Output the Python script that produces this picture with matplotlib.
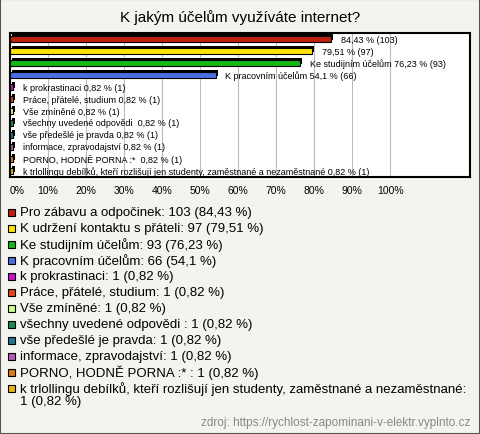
import matplotlib.pyplot as plt
from matplotlib.patches import Rectangle
from matplotlib.transforms import ScaledTranslation

plt.rcParams['font.family'] = ['Liberation Sans', 'DejaVu Sans']

title = 'K jakým účelům využíváte internet?'
answers = ['Pro zábavu a odpočinek', 'K udržení kontaktu s přáteli', 'Ke studijním účelům',
           'K pracovním účelům', 'k prokrastinaci', 'Práce, přátelé, studium', 'Vše zmíněné',
           'všechny uvedené odpovědi ', 'vše předešlé je pravda', 'informace, zpravodajství',
           'PORNO, HODNĚ PORNA :* ',
           'k trlollingu debílků, kteří rozlišují jen studenty, zaměstnané a nezaměstnané']
counts = [103, 97, 93, 66, 1, 1, 1, 1, 1, 1, 1, 1]
percents = ['84,43', '79,51', '76,23', '54,1', '0,82', '0,82', '0,82', '0,82', '0,82', '0,82', '0,82', '0,82']
values = [84.43, 79.51, 76.23, 54.1, 0.82, 0.82, 0.82, 0.82, 0.82, 0.82, 0.82, 0.82]
colors = ['#C0200E', '#FFE500', '#14B814', '#4A6FE3', '#C814C8', '#E0460F', '#CCFF8C',
          '#1C8C50', '#1E7890', '#B45AB4', '#E07814', '#E6B414']
# which bar labels carry the answer name
show_name = [False, False, True, True, True, True, True, True, True, True, True, True]
ticks = list(range(0, 101, 10))
source = 'zdroj: https://rychlost-zapominani-v-elektr.vyplnto.cz'

bg = '#F4F3ED'
fig = plt.figure(figsize=(4.8, 4.35), dpi=100, facecolor=bg)
fig.add_artist(Rectangle((0, 0), 1, 1, transform=fig.transFigure, fill=False,
                         edgecolor='#555555', lw=1.5))
fig.text(0.5, 1 - 18 / 435, title, ha='center', va='center', fontsize=11)

ax = fig.add_axes([10 / 480, 1 - 178 / 435, 460 / 480, 144 / 435])
ax.set_facecolor('white')
ax.set_xlim(0, 121)
ax.set_ylim(11.5, -0.5)
ax.set_xticks(ticks)
ax.set_xticklabels([f'{t}%' for t in ticks], fontsize=7.5)
ax.get_xticklabels()[0].set_horizontalalignment('left')
ax.tick_params(axis='x', length=0, pad=6)
ax.set_yticks([])
ax.grid(axis='x', color='#BBBBBB', lw=0.8)
ax.set_axisbelow(True)
for s in ax.spines.values():
    s.set_linewidth(1.5)

y = list(range(len(values)))
shadow = ax.barh(y, values, height=0.45, color='black')
off = ScaledTranslation(1.5 / 72, 1.5 / 72, fig.dpi_scale_trans)
for p in shadow:
    p.set_transform(ax.transData + off)
ax.barh(y, values, height=0.45, color=colors, edgecolor='black', lw=0.8)

for i, v in enumerate(values):
    lab = f'{percents[i]} % ({counts[i]})'
    if show_name[i]:
        lab = f'{answers[i]} {lab}'
    ax.annotate(lab, (v, i), xytext=(7, 0), textcoords='offset points',
                va='center', fontsize=6.5)

# legend below the chart
ypix = 213
for i, a in enumerate(answers):
    fig.add_artist(Rectangle((8 / 480, 1 - (ypix + 3.5) / 435), 7 / 480, 7 / 435,
                             transform=fig.transFigure, facecolor=colors[i],
                             edgecolor='black', lw=0.8))
    txt = f'{a}: {counts[i]} ({percents[i]} %)'
    if i == len(answers) - 1:
        fig.text(20 / 480, 1 - (ypix - 6.5) / 435, f'{a}:\n{counts[i]} ({percents[i]} %)',
                 ha='left', va='top', fontsize=9.5, linespacing=1.0)
    else:
        fig.text(20 / 480, 1 - ypix / 435, txt, ha='left', va='center', fontsize=9.5)
    ypix += 16

fig.text(470 / 480, 1 - 423 / 435, source, ha='right', va='center', fontsize=8.5,
         color='#888888')

fig.savefig('out.png', dpi=100, facecolor=bg)
